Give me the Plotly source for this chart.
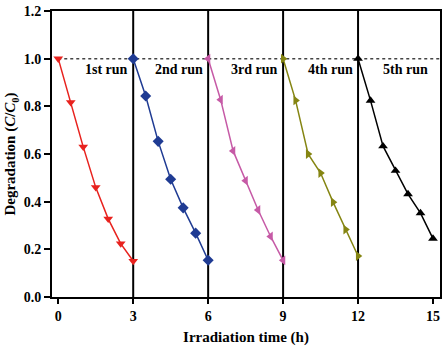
import plotly.graph_objects as go

# Data
run_names = ["1st run", "2nd run", "3rd run", "4th run", "5th run"]
x_run1 = [0, 0.5, 1, 1.5, 2, 2.5, 3]
y_run1 = [1.0, 0.817, 0.63, 0.46, 0.328, 0.224, 0.151]
x_run2 = [3, 3.5, 4, 4.5, 5, 5.5, 6]
y_run2 = [1.0, 0.843, 0.653, 0.494, 0.374, 0.268, 0.154]
x_run3 = [6, 6.5, 7, 7.5, 8, 8.5, 9]
y_run3 = [1.0, 0.828, 0.613, 0.488, 0.365, 0.254, 0.154]
x_run4 = [9, 9.5, 10, 10.5, 11, 11.5, 12]
y_run4 = [1.0, 0.825, 0.60, 0.52, 0.398, 0.283, 0.172]
x_run5 = [12, 12.5, 13, 13.5, 14, 14.5, 15]
y_run5 = [1.0, 0.824, 0.633, 0.53, 0.432, 0.352, 0.245]
run_boundaries = [3, 6, 9, 12]
x_ticks = [0, 3, 6, 9, 12, 15]
y_ticks = [0.0, 0.2, 0.4, 0.6, 0.8, 1.0, 1.2]

colors = ["#e8221e", "#1f3b93", "#c65aa6", "#858512", "#000000"]
symbols = ["triangle-down", "diamond", "triangle-left", "triangle-right", "triangle-up"]

xs = [x_run1, x_run2, x_run3, x_run4, x_run5]
ys = [y_run1, y_run2, y_run3, y_run4, y_run5]

FONT = "Liberation Serif"

fig = go.Figure()
for i in range(5):
    fig.add_trace(go.Scatter(
        x=xs[i], y=ys[i], mode="lines+markers", name=run_names[i],
        line=dict(color=colors[i], width=1.5),
        marker=dict(symbol=symbols[i], size=8.5, color=colors[i]),
        showlegend=False, cliponaxis=False,
    ))

shapes = []
for b in run_boundaries:
    shapes.append(dict(type="line", xref="x", yref="paper", x0=b, x1=b, y0=0, y1=1,
                       line=dict(color="black", width=2), layer="below"))
shapes.append(dict(type="line", xref="x", yref="y", x0=0, x1=15.3, y0=1.0, y1=1.0,
                   line=dict(color="#444444", width=1.5, dash="dot"), layer="below"))

annotations = []
for i, name in enumerate(run_names):
    annotations.append(dict(
        x=3 * (i + 1) - 0.13, y=0.955, xref="x", yref="y", text="<b>%s</b>" % name,
        showarrow=False, xanchor="right", yanchor="middle",
        font=dict(family=FONT, size=14, color="black"),
    ))

fig.update_layout(
    width=446, height=348,
    margin=dict(l=52, r=4, t=8, b=51),
    paper_bgcolor="white", plot_bgcolor="white",
    shapes=shapes, annotations=annotations,
    font=dict(family=FONT, size=14, color="black"),
    xaxis=dict(
        range=[-0.25, 15.28], tickvals=x_ticks,
        ticktext=["<b>%d</b>" % t for t in x_ticks],
        ticks="outside", ticklen=5, tickwidth=2, tickcolor="black",
        showline=True, linewidth=2, linecolor="black", mirror=True,
        showgrid=False, zeroline=False,
        title=dict(text="<b>Irradiation time (h)</b>", font=dict(family=FONT, size=15), standoff=9),
        tickfont=dict(family=FONT, size=14),
    ),
    yaxis=dict(
        range=[0, 1.2], tickvals=y_ticks,
        ticktext=["<b>%.1f</b>" % t for t in y_ticks],
        ticks="outside", ticklen=6, tickwidth=2, tickcolor="black",
        showline=True, linewidth=2, linecolor="black", mirror=True,
        showgrid=False, zeroline=False,
        title=dict(text="<b>Degradation (<i>C</i>/<i>C</i><sub>0</sub>)</b>", font=dict(family=FONT, size=15), standoff=4),
        tickfont=dict(family=FONT, size=14),
    ),
)

fig.write_html("out.html", config={"displayModeBar": False},
               post_script="document.body.style.margin='0';document.body.style.overflow='hidden';")
